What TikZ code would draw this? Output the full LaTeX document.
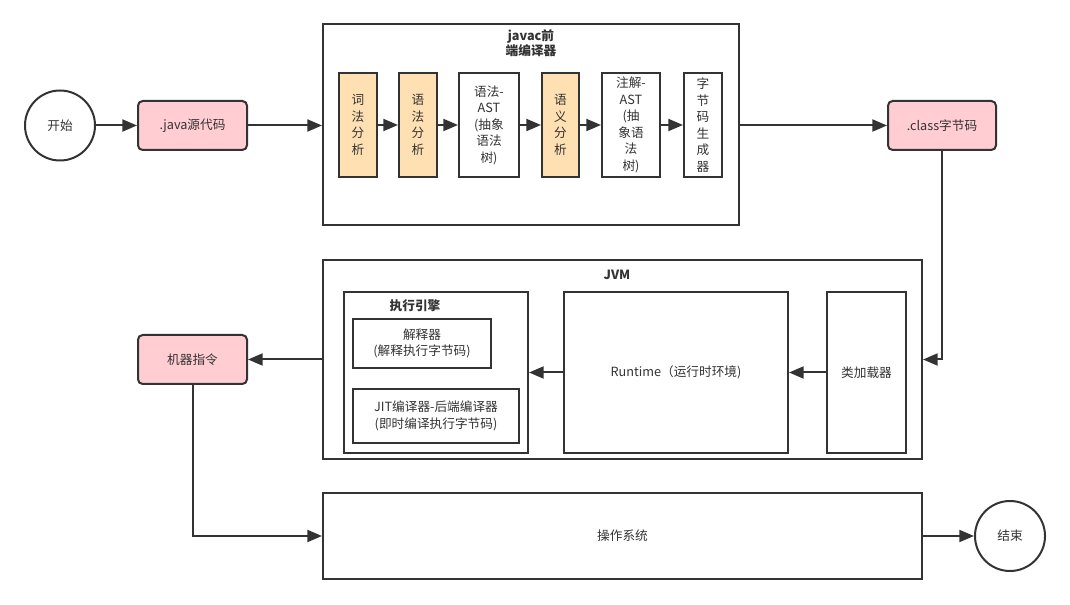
\documentclass[tikz,border=0pt]{standalone}
\usepackage{fontspec}
\setmainfont{Noto Sans CJK SC}
\usetikzlibrary{arrows.meta}
\definecolor{linec}{HTML}{333333}
\definecolor{txtc}{HTML}{333333}
\definecolor{pinkf}{HTML}{FFCDD2}
\definecolor{orangef}{HTML}{FFE0B2}
\newcommand\pxbox[7]{\node[#6, minimum width={(#4-#2)*0.75pt}, minimum height={(#5-#3)*0.75pt}] (#1) at ({(#2+#4)/2},{(#3+#5)/2}) {#7};}
\tikzset{
  every node/.style={text=txtc, font=\fontsize{9.5pt}{12.4pt}\selectfont, align=center, inner sep=0pt},
  box/.style={draw=linec, line width=1.5pt, fill=white},
  pinkbox/.style={box, fill=pinkf, rounded corners=3.5pt},
  orangebox/.style={box, fill=orangef},
  circ/.style={circle, draw=linec, line width=1.5pt, minimum size=52.5pt},
  ttl/.style={font=\fontsize{9.5pt}{11.5pt}\selectfont\bfseries},
  arr/.style={draw=linec, line width=1.5pt, -{Triangle[length=11pt,width=9pt]}},
}
\begin{document}
\begin{tikzpicture}[x=0.75pt,y=-0.75pt]
\useasboundingbox (0,0) rectangle (1070,605);
% top row
\node[circ] (start) at (60,125.5) {开始};
\pxbox{java}{138}{101}{247}{150}{pinkbox}{.java源代码}
\pxbox{javac}{323}{24}{739}{225}{box}{}
\node[ttl] (javactitle) at (531,43) {javac前\\端编译器};
\pxbox{b1}{339}{73}{377}{177}{orangebox}{词\\法\\分\\析}
\pxbox{b2}{399}{73}{437}{177}{orangebox}{语\\法\\分\\析}
\pxbox{b3}{459}{73}{519}{177}{box}{语法-\\AST\\(抽象\\语法\\树)}
\pxbox{b4}{542}{73}{579}{177}{orangebox}{语\\义\\分\\析}
\pxbox{b5}{602}{73}{660}{177}{box}{注解-\\AST\\(抽\\象语\\法\\树)}
\pxbox{b6}{684}{73}{722}{177}{box}{字\\节\\码\\生\\成\\器}
\pxbox{class}{888}{101}{996}{150}{pinkbox}{.class字节码}
% JVM
\pxbox{jvm}{323}{260}{922}{459}{box}{}
\node[ttl] (jvmtitle) at (617,275) {JVM};
\pxbox{engine}{344}{292}{528}{453}{box}{}
\node[ttl] (enginetitle) at (415,306) {执行引擎};
\pxbox{interp}{353}{319}{491}{368}{box}{解释器\\(解释执行字节码)}
\pxbox{jit}{353}{389}{519}{443}{box}{JIT编译器-后端编译器\\(即时编译执行字节码)}
\pxbox{runtime}{564}{292}{788}{453}{box}{Runtime（运行时环境)}
\pxbox{loader}{827}{292}{906}{453}{box}{类加载器}
\pxbox{machine}{138}{335}{247}{384}{pinkbox}{机器指令}
% OS
\pxbox{os}{323}{493}{922}{579}{box}{操作系统}
\node[circ] (end) at (1010,536) {结束};
% connectors
\draw[arr] (start.east) -- (java.west);
\draw[arr] (java.east) -- (java.east -| javac.west);
\draw[arr] (b1) -- (b2);
\draw[arr] (b2) -- (b3);
\draw[arr] (b3) -- (b4);
\draw[arr] (b4) -- (b5);
\draw[arr] (b5) -- (b6);
\draw[arr] (javac.east |- class.west) -- (class.west);
\draw[arr] (class.south) |- (jvm.east);
\draw[arr] (loader.west) -- (runtime.east);
\draw[arr] (runtime.west) -- (engine.east);
\draw[arr] (jvm.west) -- (jvm.west -| machine.east);
\draw[arr] (machine.south) |- (os.west);
\draw[arr] (os.east) -- (end.west);
\end{tikzpicture}
\end{document}
